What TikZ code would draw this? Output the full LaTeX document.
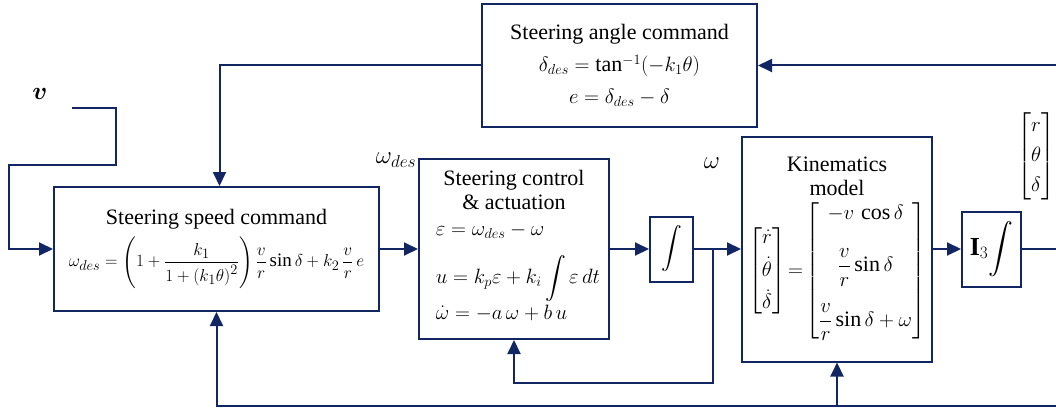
\documentclass[tikz,border=0pt]{standalone}
\usepackage{amsmath}
\usepackage{fontspec}
\setmainfont{Liberation Serif}
\usepackage{xcolor}
\usepackage{tikz}
\usetikzlibrary{arrows.meta, positioning, calc}

\definecolor{navy}{RGB}{18,38,100}

\begin{document}
\begin{tikzpicture}[
    x=1pt, y=1pt,
    font=\fontsize{22}{26}\selectfont,
    block/.style={rectangle, draw=navy, line width=2pt, fill=white, align=center, inner sep=4pt},
    arrow/.style={-{Triangle[length=14pt,width=13pt]}, line width=2pt, draw=navy},
    wire/.style={line width=2pt, draw=navy},
    sig/.style={font=\fontsize{24}{26}\selectfont}
]
\useasboundingbox (0,0) rectangle (1056,-409);

% Middle row: speed command, control, integrator, kinematics, integrator
\node[block, minimum width=325pt, minimum height=124pt, inner sep=2pt] (speed) at (216.5,-249)
  {Steering speed command\\[6pt]
   {\fontsize{19}{22}\selectfont$\omega_{des} = \left(1+\dfrac{k_1}{1+\left(k_1\theta\right)^2}\right)\dfrac{v}{r}\sin\delta + k_2\,\dfrac{v}{r}\,e$}};
\node[block, minimum width=190pt, minimum height=180pt, right=38pt of speed] (ctrl)
  {Steering control\\[-2pt] \& actuation\\[6pt]
   \hspace*{8pt}\begin{tabular}{@{}l@{}}
   $\varepsilon = \omega_{des} - \omega$\\[12pt]
   $u = k_p\varepsilon + k_i\displaystyle\int\varepsilon\,dt$\\[8pt]
   $\dot{\omega} = -a\,\omega + b\,u$
   \end{tabular}};
\node[block, minimum width=43pt, minimum height=65pt, inner sep=2pt, right=39pt of ctrl] (integ)
  {$\displaystyle\int$};
\node[block, minimum width=190pt, minimum height=225pt, right=47pt of integ] (kin)
  {Kinematics\\[-2pt] model\\[4pt]
   $\begin{bmatrix}\dot{r}\\[6pt] \dot{\theta}\\[6pt] \dot{\delta}\end{bmatrix}
   \!=\!\begin{bmatrix} -v\,\cos\delta\\[22pt] \dfrac{v}{r}\sin\delta\\[24pt] \dfrac{v}{r}\sin\delta+\omega\end{bmatrix}$};
\node[block, minimum width=59pt, minimum height=75pt, inner sep=2pt, right=28pt of kin] (ithree)
  {\fontsize{26}{28}\selectfont$\mathbf{I}_3\!\displaystyle\int$};

% Top: angle command
\node[block, minimum width=275pt, minimum height=123pt] (angle) at (619.5,-65.5)
  {Steering angle command\\[6pt]
   $\delta_{des} = \tan^{-1}(-k_1\theta)$\\[6pt]
   $e = \delta_{des} - \delta$};

% Signal labels
\node[sig] (vlab) at (40,-94) {$\boldsymbol{v}$};
\node[sig] (wdes) at (396,-160) {$\omega_{des}$};
\node[sig] (wlab) at (712,-163) {$\omega$};
\node (state) at (1036,-156) {$\begin{bmatrix} r\\[4pt] \theta\\[4pt] \delta\end{bmatrix}$};

% Free ends
\coordinate (vin) at (72,-108);
\coordinate (topR) at (1056,-67);
\coordinate (botR) at (1056,-406);
\coordinate (outR) at (1056,-249);
\coordinate (split) at ($(integ.east)!0.4!(kin.west)$);

% Connectors
\draw[arrow] (vin) -| ++(44,-57) -| ([xshift=-44pt]speed.west) -- (speed.west);
\draw[arrow] (speed) -- (ctrl);
\draw[arrow] (ctrl) -- (integ);
\draw[arrow] (integ) -- (kin);
\draw[arrow] (kin) -- (ithree);
\draw[wire] (ithree) -- (ithree.east -| outR);

\draw[arrow] (angle.east -| topR) -- (angle.east);
\draw[arrow] (angle.west) -| ([xshift=3pt]speed.north);

\draw[arrow] (split) |- ++(0,-134) -| (ctrl.south);
\draw[arrow] (botR) -| (speed.south);
\draw[arrow] (kin.south |- botR) -- (kin.south);

\end{tikzpicture}
\end{document}
